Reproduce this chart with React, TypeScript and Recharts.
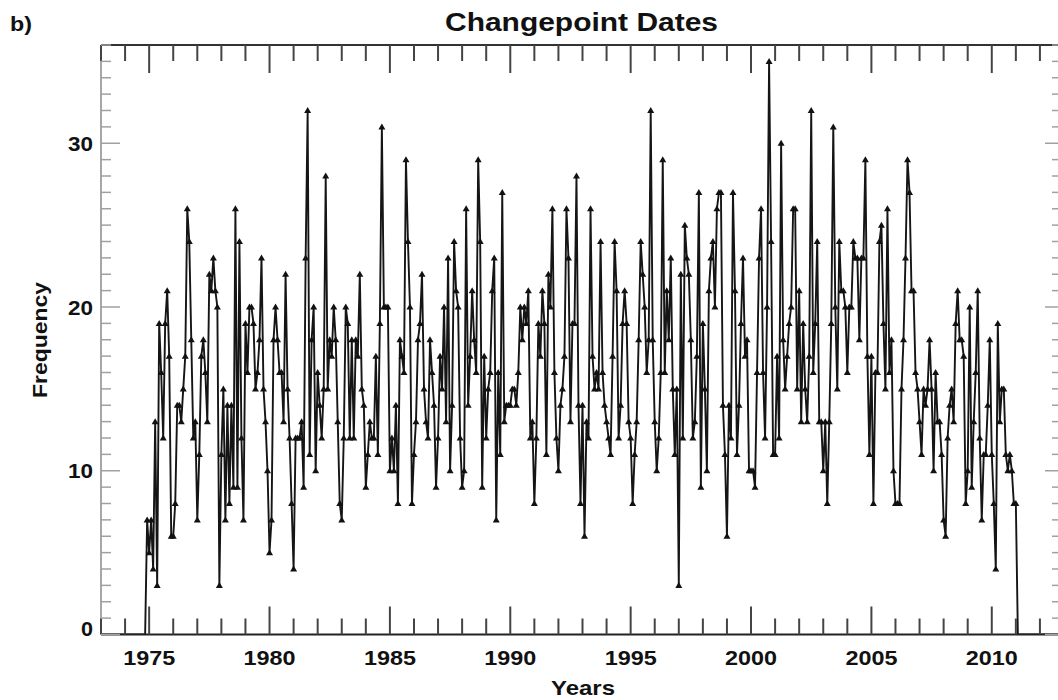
import { LineChart, Line, XAxis, YAxis } from 'recharts'

// monthly changepoint counts, one row per year, Jan..Dec (1975 .. Feb 2011)
const START_YEAR = 1975
const MONTHLY_FREQ = [
  5, 7, 4, 13, 3, 19, 16, 12, 19, 21, 17, 6,
  6, 8, 14, 14, 13, 15, 17, 26, 24, 18, 12, 13,
  7, 11, 17, 18, 16, 13, 22, 21, 23, 21, 20, 3,
  11, 15, 7, 14, 8, 14, 9, 26, 9, 24, 12, 7,
  19, 16, 20, 20, 19, 15, 16, 18, 23, 15, 13, 10,
  5, 7, 18, 20, 18, 16, 16, 13, 22, 15, 12, 8,
  4, 12, 12, 12, 13, 9, 23, 32, 11, 18, 20, 10,
  16, 14, 12, 15, 28, 15, 18, 17, 20, 18, 13, 8,
  7, 12, 20, 19, 12, 18, 12, 18, 17, 22, 15, 14,
  9, 11, 13, 12, 12, 17, 11, 19, 31, 20, 20, 20,
  10, 12, 10, 14, 8, 18, 17, 16, 29, 24, 20, 8,
  11, 13, 18, 19, 22, 15, 13, 12, 18, 16, 14, 9,
  12, 17, 15, 20, 13, 23, 10, 14, 24, 21, 20, 12,
  9, 10, 26, 14, 17, 21, 18, 16, 29, 24, 9, 17,
  12, 15, 16, 21, 23, 7, 16, 11, 27, 13, 14, 14,
  14, 15, 15, 14, 16, 20, 18, 20, 19, 21, 12, 13,
  8, 12, 19, 17, 21, 19, 11, 22, 20, 26, 16, 12,
  10, 14, 15, 17, 26, 23, 13, 19, 19, 28, 14, 8,
  14, 6, 13, 12, 26, 17, 15, 16, 15, 24, 16, 14,
  13, 12, 11, 17, 24, 21, 12, 14, 19, 21, 19, 13,
  12, 8, 11, 13, 18, 24, 22, 20, 16, 18, 32, 18,
  13, 10, 12, 16, 29, 16, 21, 18, 23, 15, 11, 15,
  3, 22, 12, 25, 23, 22, 18, 12, 13, 17, 27, 9,
  19, 15, 10, 21, 23, 24, 20, 26, 27, 27, 14, 11,
  6, 14, 12, 27, 21, 11, 14, 19, 23, 17, 18, 10,
  10, 10, 9, 16, 23, 26, 16, 12, 20, 35, 24, 11,
  11, 17, 12, 30, 18, 15, 17, 19, 20, 26, 26, 15,
  21, 13, 19, 15, 13, 17, 32, 16, 19, 24, 13, 13,
  10, 13, 8, 13, 19, 31, 20, 15, 24, 21, 21, 20,
  16, 20, 20, 24, 23, 23, 18, 23, 23, 29, 17, 11,
  17, 8, 16, 16, 24, 25, 19, 15, 26, 16, 18, 10,
  8, 8, 8, 15, 18, 23, 29, 27, 21, 21, 16, 15,
  13, 11, 15, 14, 15, 18, 15, 10, 16, 13, 13, 11,
  7, 6, 12, 14, 15, 13, 19, 21, 18, 18, 17, 8,
  10, 20, 9, 13, 16, 21, 12, 7, 11, 11, 14, 18,
  11, 8, 4, 19, 13, 15, 15, 11, 10, 11, 10, 8,
  8, 0,
]
// flat zero stretches before and after the record: [year, count]
const LEAD_IN = [[1973, 0], [1974 + 10 / 12, 0], [1974 + 11 / 12, 7]]
const TAIL = [[2013, 0]]

const YEAR_TICKS = [
  1973, 1974, 1975, 1976, 1977, 1978, 1979, 1980, 1981, 1982, 1983, 1984, 1985, 1986,
  1987, 1988, 1989, 1990, 1991, 1992, 1993, 1994, 1995, 1996, 1997, 1998, 1999, 2000,
  2001, 2002, 2003, 2004, 2005, 2006, 2007, 2008, 2009, 2010, 2011, 2012, 2013,
]
const FREQ_TICKS = Array.from({ length: 37 }, (_, i) => i)

const data = [
  ...LEAD_IN.map(([t, v]) => ({ t, v })),
  ...MONTHLY_FREQ.map((v, i) => ({ t: START_YEAR + i / 12, v })),
  ...TAIL.map(([t, v]) => ({ t, v })),
]

const FONT = '"Liberation Sans", Arial, Helvetica, sans-serif'

function BottomTick({ x, y, payload }: any) {
  const major = payload.value % 5 === 0
  return (
    <g>
      <line x1={x} x2={x} y1={y} y2={y - (major ? 28 : 16)} stroke="#444" strokeWidth={2} />
      {major ? (
        <text x={x} y={y + 30.5} textAnchor="middle" fontFamily={FONT} fontWeight="bold" fontSize={21}
          fill="#111" textLength={52} lengthAdjust="spacingAndGlyphs">{payload.value}</text>
      ) : null}
    </g>
  )
}

function TopTick({ x, y, payload }: any) {
  const major = payload.value % 5 === 0
  return (
    <g>
      <line x1={x} x2={x} y1={y} y2={y + (major ? 28 : 16)} stroke="#444" strokeWidth={2} />
    </g>
  )
}

function LeftTick({ x, y, payload }: any) {
  const v = payload.value
  const major = v % 10 === 0
  return (
    <g>
      <line x1={x} x2={x + (major ? 19 : 10)} y1={y} y2={y} stroke="#a0a0a0" strokeWidth={1.5} />
      {major ? (
        <text x={x - 8} y={v === 0 ? y + 1 : y + 7.5} textAnchor="end" fontFamily={FONT} fontWeight="bold"
          fontSize={21} fill="#111" textLength={v === 0 ? 12 : 25} lengthAdjust="spacingAndGlyphs">{v}</text>
      ) : null}
    </g>
  )
}

function RightTick({ x, y, payload }: any) {
  const major = payload.value % 10 === 0
  return (
    <g>
      <line x1={x} x2={x - (major ? 19 : 12)} y1={y} y2={y} stroke="#a0a0a0" strokeWidth={1.5} />
    </g>
  )
}

function Marker(props: any) {
  const { cx, cy, payload, index } = props
  if (payload.v === 0 || cx == null) return <g key={index} />
  return (
    <polygon key={index} points={`${cx - 3.5},${cy + 2.5} ${cx + 3.5},${cy + 2.5} ${cx},${cy - 3.5}`}
      fill="#111" stroke="none" />
  )
}

export default function App() {
  return (
    <div style={{ position: 'relative', width: 1058, height: 700, overflow: 'hidden', background: '#fff' }}>
      <style>{'body{margin:0;overflow:hidden}'}</style>
      <LineChart width={1079} height={700} data={data} margin={{ top: 44, right: 0, bottom: 0, left: 0 }}>
        <XAxis xAxisId="bottom" type="number" dataKey="t" domain={[1973, 2013]} ticks={YEAR_TICKS}
          interval={0} minTickGap={0} allowDataOverflow height={65.5} tickSize={0} tickMargin={0}
          tick={<BottomTick />} tickLine={false} axisLine={{ stroke: '#222', strokeWidth: 2 }} />
        <XAxis xAxisId="top" orientation="top" type="number" dataKey="t" domain={[1973, 2013]} ticks={YEAR_TICKS}
          interval={0} minTickGap={0} allowDataOverflow height={1} tickSize={0} tickMargin={0}
          tick={<TopTick />} tickLine={false} axisLine={{ stroke: '#333', strokeWidth: 2 }} />
        <YAxis yAxisId="left" type="number" domain={[0, 36]} ticks={FREQ_TICKS} interval={0} width={101}
          allowDataOverflow tickSize={0} tickMargin={0} tick={<LeftTick />} tickLine={false}
          axisLine={{ stroke: '#8a8a8a', strokeWidth: 1.5 }} />
        <YAxis yAxisId="right" orientation="right" type="number" domain={[0, 36]} ticks={FREQ_TICKS} interval={0}
          width={15} allowDataOverflow tickSize={0} tickMargin={0} tick={<RightTick />} tickLine={false}
          axisLine={{ stroke: '#8a8a8a', strokeWidth: 1.5 }} />
        <Line xAxisId="bottom" yAxisId="left" type="linear" dataKey="v" stroke="#151515" strokeWidth={1.9}
          dot={Marker} activeDot={false} isAnimationActive={false} />
      </LineChart>
      <svg width={1058} height={700} style={{ position: 'absolute', left: 0, top: 0, pointerEvents: 'none' }}>
        <text x={10} y={31} fontFamily={FONT} fontWeight="bold" fontSize={20} fill="#111"
          textLength={22} lengthAdjust="spacingAndGlyphs">b)</text>
        <text x={581.5} y={30.5} textAnchor="middle" fontFamily={FONT} fontWeight="bold" fontSize={26} fill="#111"
          textLength={273} lengthAdjust="spacingAndGlyphs">Changepoint Dates</text>
        <text x={583} y={695} textAnchor="middle" fontFamily={FONT} fontWeight="bold" fontSize={21} fill="#111"
          textLength={64} lengthAdjust="spacingAndGlyphs">Years</text>
        <text transform="translate(47,340) rotate(-90)" textAnchor="middle" fontFamily={FONT} fontWeight="bold"
          fontSize={21} fill="#111" textLength={116} lengthAdjust="spacingAndGlyphs">Frequency</text>
      </svg>
    </div>
  )
}
